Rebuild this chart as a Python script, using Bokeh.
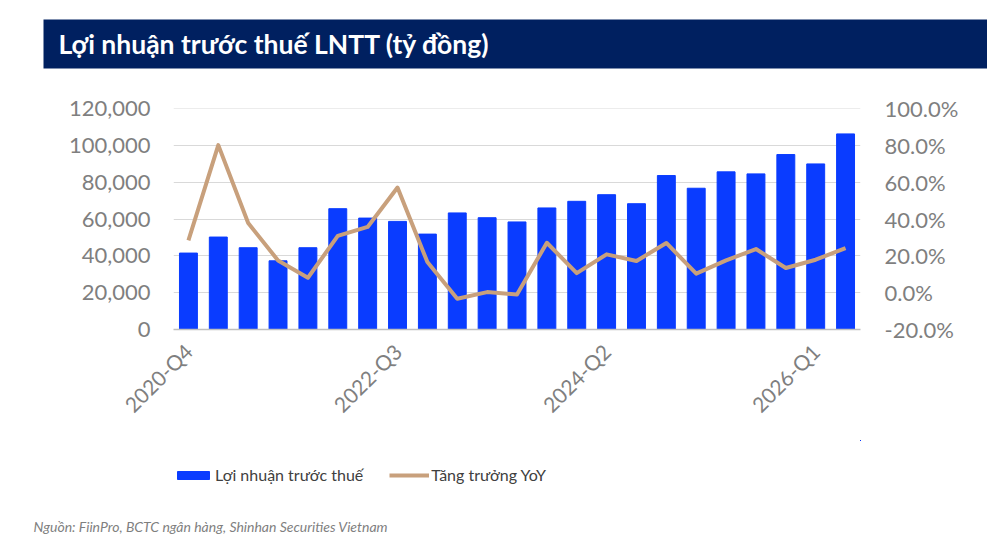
import math
from bokeh.plotting import figure
from bokeh.layouts import column
from bokeh.models import (Range1d, LinearAxis, FixedTicker, NumeralTickFormatter,
                          Legend, LegendItem, Title, ColumnDataSource)
from bokeh.embed import file_html
from bokeh.resources import INLINE

# ---------------- data ----------------
categories = ["2020-Q4",
              "2021-Q1", "2021-Q2", "2021-Q3", "2021-Q4",
              "2022-Q1", "2022-Q2", "2022-Q3", "2022-Q4",
              "2023-Q1", "2023-Q2", "2023-Q3", "2023-Q4",
              "2024-Q1", "2024-Q2", "2024-Q3", "2024-Q4",
              "2025-Q1", "2025-Q2", "2025-Q3", "2025-Q4",
              "2026-Q1", "2026-Q2"]
profit = [41500, 50200, 44400, 37300, 44400, 65600, 60500, 58700, 51800,
          63300, 60700, 58400, 66000, 69600, 73200, 68300, 83600, 76700,
          85600, 84500, 95000, 89900, 106200]
growth = [0.284, 0.801, 0.378, 0.175, 0.081, 0.308, 0.357, 0.571, 0.166,
          -0.033, 0.003, -0.010, 0.271, 0.106, 0.208, 0.172, 0.270, 0.103,
          0.175, 0.237, 0.134, 0.179, 0.242]
shown_ticks = [0, 7, 14, 21]
left_ticks = [0, 20000, 40000, 60000, 80000, 100000, 120000]
right_ticks = [-0.2, 0.0, 0.2, 0.4, 0.6, 0.8, 1.0]

title_text = "Lợi nhuận trước thuế LNTT (tỷ đồng)"
bar_label = "Lợi nhuận trước thuế"
line_label = "Tăng trưởng YoY"
source_text = "Nguồn: FiinPro, BCTC ngân hàng, Shinhan Securities Vietnam"

# ---------------- style / layout ----------------
FONT = "Lato"
GRAY = "#7F7F7F"
BAR_COLOR = "#0A3CFF"
LINE_COLOR = "#C8A07C"
NAVY = "#002060"

W = 987
H_MAIN, H_LEG = 440, 108
B_LEFT, B_RIGHT = 173, 127
EPS = 1e-6  # keeps the top gridline from being dropped at the range end

xs = list(range(len(categories)))
src = ColumnDataSource(dict(x=xs, profit=profit, growth=growth, cat=categories))

p = figure(width=W, height=H_MAIN, output_backend="svg", toolbar_location=None,
           title=None,
           x_range=Range1d(-0.5, len(categories) - 0.5),
           y_range=Range1d(left_ticks[0], left_ticks[-1] * (1 + EPS)),
           min_border_left=B_LEFT, min_border_right=B_RIGHT,
           min_border_top=108, min_border_bottom=H_MAIN - 329)
p.extra_y_ranges = {"pct": Range1d(right_ticks[0], right_ticks[-1] + EPS * 1.2)}
p.outline_line_color = None
p.background_fill_color = "white"
p.border_fill_color = "white"

bars = p.vbar(x="x", top="profit", bottom=0, width=0.6, source=src, color=BAR_COLOR)
line = p.line(x="x", y="growth", source=src, y_range_name="pct",
              line_color=LINE_COLOR, line_width=4, line_join="round")

xa = p.xaxis[0]
xa.ticker = FixedTicker(ticks=shown_ticks)
xa.major_label_overrides = {i: categories[i] for i in shown_ticks}
xa.major_label_orientation = math.pi / 4
xa.axis_line_color = "#BFBFBF"
xa.axis_line_width = 1.5
xa.major_tick_line_color = None
xa.minor_tick_line_color = None
xa.major_tick_out = 0
xa.major_label_text_font = FONT
xa.major_label_text_font_size = "21px"
xa.major_label_text_color = GRAY
xa.major_label_standoff = 18

ly_ticker = FixedTicker(ticks=left_ticks)
ya = p.yaxis[0]
ya.ticker = ly_ticker
ya.formatter = NumeralTickFormatter(format="0,0")
ya.axis_line_color = None
ya.major_tick_line_color = None
ya.minor_tick_line_color = None
ya.major_label_text_font = FONT
ya.major_label_text_font_size = "22px"
ya.major_label_text_color = GRAY
ya.major_label_standoff = 17

p.xgrid.grid_line_color = None
p.ygrid.ticker = ly_ticker
p.ygrid.grid_line_color = "#D9D9D9"
p.ygrid.grid_line_width = 1.2

ra = LinearAxis(y_range_name="pct", ticker=FixedTicker(ticks=right_ticks),
                formatter=NumeralTickFormatter(format="0.0%"))
ra.axis_line_color = None
ra.major_tick_line_color = None
ra.minor_tick_line_color = None
ra.major_label_text_font = FONT
ra.major_label_text_font_size = "22px"
ra.major_label_text_color = GRAY
ra.major_label_standoff = 18
p.add_layout(ra, "right")

# spacer between the title bar and the plot area (nearest to the frame)
p.add_layout(Title(text=" ", standoff=37, text_font=FONT,
                   text_font_size="1px", text_color="white"), "above")
# navy title bar
p.add_layout(Title(text=title_text, align="left", offset=-130, standoff=0,
                   text_font=FONT, text_font_style="bold",
                   text_font_size="26.5px", text_color="white",
                   background_fill_color=NAVY,
                   padding=dict(left=15, right=700, top=8, bottom=9)), "above")

# ---------------- legend strip + source note ----------------
# The strip shows no data area: its ranges lie away from every value,
# so the key renderers below only feed the legend.
lf = figure(width=W, height=H_LEG, output_backend="svg", toolbar_location=None,
            title=None, x_axis_type=None, y_axis_type=None,
            x_range=Range1d(-30, -20), y_range=Range1d(-30, -20),
            min_border_left=B_LEFT, min_border_right=B_RIGHT,
            min_border_top=0, min_border_bottom=33)
lf.outline_line_color = None
lf.background_fill_color = "white"
lf.border_fill_color = "white"
lf.xgrid.visible = False
lf.ygrid.visible = False

key_bar = lf.vbar(x="x", top="profit", bottom=0, width=0.6, source=src,
                  color=BAR_COLOR)
key_line = lf.line(x="x", y="growth", source=src,
                   line_color=LINE_COLOR, line_width=4)

legend = Legend(items=[LegendItem(label=bar_label, renderers=[key_bar]),
                       LegendItem(label=line_label, renderers=[key_line])],
                orientation="horizontal", location=(0, 31),
                padding=0, margin=0, spacing=26, label_standoff=2,
                glyph_width=40, glyph_height=10, label_height=10,
                label_text_font=FONT, label_text_font_size="16px",
                label_text_color="#404040",
                border_line_color=None, background_fill_alpha=0)
lf.add_layout(legend, "center")

lf.add_layout(Title(text=source_text, align="left", offset=-140, standoff=0,
                    text_font=FONT, text_font_style="italic",
                    text_font_size="14px", text_color=GRAY), "below")

layout = column(p, lf, spacing=0)
open("out.html", "w").write(file_html(layout, INLINE))
